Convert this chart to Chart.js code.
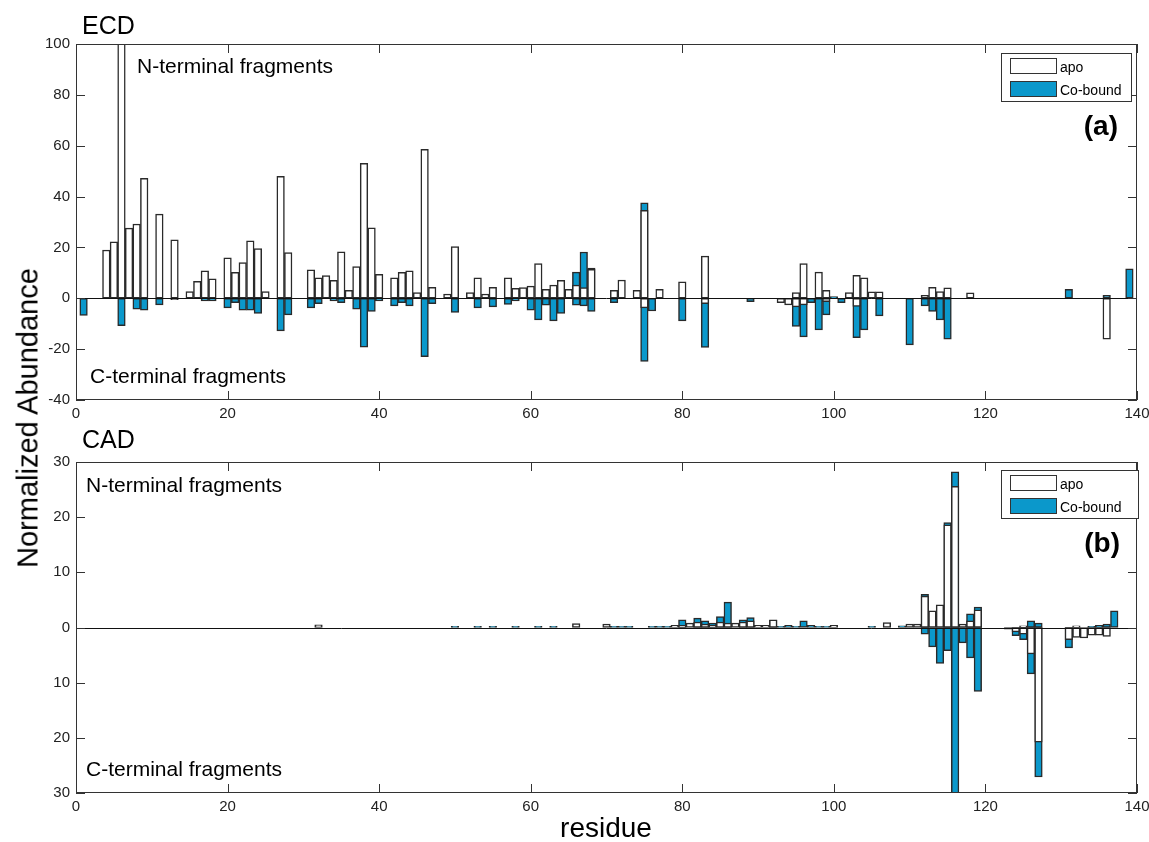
<!DOCTYPE html>
<html>
<head>
<meta charset="utf-8">
<title>ECD / CAD fragment abundance</title>
<script src="https://cdn.jsdelivr.net/npm/chart.js@4.4.1/dist/chart.umd.min.js"></script>
<style>
  body { margin: 0; background: #fff; font-family: "Liberation Sans", Arial, sans-serif; color: #000; }
  #page { position: relative; width: 1149px; height: 842px; overflow: hidden; }
  canvas { position: absolute; left: 0; }
  .txt { position: absolute; white-space: nowrap; line-height: 1; }
  .legend { position: absolute; border: 1px solid #333; background: #fff; box-sizing: border-box; }
  .swatch { position: absolute; left: 8px; width: 47px; height: 16px; border: 1px solid #333; box-sizing: border-box; }
  .key { position: absolute; left: 58px; font-size: 14px; line-height: 1; }
</style>
</head>
<body>
<div id="page">
  <canvas id="ecdChart" width="1149" height="430" style="top:0px"></canvas>
  <canvas id="cadChart" width="1149" height="422" style="top:420px"></canvas>

  <div class="txt" style="left:82px; top:13px; font-size:25px;">ECD</div>
  <div class="txt" style="left:82px; top:427px; font-size:25px;">CAD</div>

  <div class="txt" style="left:137px; top:55px; font-size:21px;">N-terminal fragments</div>
  <div class="txt" style="left:90px; top:365px; font-size:21px;">C-terminal fragments</div>
  <div class="txt" style="left:86px; top:474px; font-size:21px;">N-terminal fragments</div>
  <div class="txt" style="left:86px; top:758px; font-size:21px;">C-terminal fragments</div>

  <div class="txt" style="right:31px; top:112px; font-size:28px; font-weight:bold;">(a)</div>
  <div class="txt" style="right:29px; top:529px; font-size:28px; font-weight:bold;">(b)</div>

  <div class="txt" style="left:28px; top:418px; font-size:29px; transform:translate(-50%,-50%) rotate(-90deg);">Normalized Abundance</div>
  <div class="txt" style="left:606px; top:814px; font-size:28px; transform:translateX(-50%);">residue</div>

  <div class="legend" style="left:1001px; top:53px; width:131px; height:49px;">
    <div class="swatch" style="top:4px; background:#fff;"></div>
    <div class="key" style="top:6px;">apo</div>
    <div class="swatch" style="top:27px;" id="swA"></div>
    <div class="key" style="top:29px;">Co-bound</div>
  </div>
  <div class="legend" style="left:1001px; top:470px; width:138px; height:49px;">
    <div class="swatch" style="top:4px; background:#fff;"></div>
    <div class="key" style="top:6px;">apo</div>
    <div class="swatch" style="top:27px;" id="swB"></div>
    <div class="key" style="top:29px;">Co-bound</div>
  </div>
</div>

<script>
// ---- data: [residue, normalized abundance] ----
// N-terminal fragments go up, C-terminal fragments go down (negative)

// ECD
const ecdApoN = [
  [4, 19.0], [5, 22.2], [6, 105], [7, 27.6], [8, 29.2], [9, 47.2], [11, 33.1], [13, 23.0],
  [15, 2.6], [16, 6.7], [17, 10.8], [18, 7.7], [20, 15.9], [21, 10.2], [22, 14.0], [23, 22.6],
  [24, 19.5], [25, 2.6], [27, 48.0], [28, 18.0], [31, 11.2], [32, 8.0], [33, 8.9], [34, 7.1],
  [35, 18.3], [36, 3.1], [37, 12.5], [38, 53.1], [39, 27.7], [40, 9.4], [42, 8.0], [43, 10.2],
  [44, 10.8], [45, 2.2], [46, 58.6], [47, 4.3], [49, 1.7], [50, 20.3], [52, 2.2], [53, 8.0],
  [54, 1.7], [55, 4.3], [57, 8.0], [58, 3.9], [59, 4.2], [60, 4.8], [61, 13.6], [62, 3.5],
  [63, 5.2], [64, 7.1], [65, 3.5], [66, 5.2], [67, 4.2], [68, 11.4], [71, 3.1], [72, 7.2],
  [74, 3.1], [75, 34.6], [77, 3.5], [80, 6.5], [83, 16.6], [95, 2.2], [96, 13.6], [98, 10.3],
  [99, 3.1], [102, 2.2], [103, 9.0], [104, 8.0], [105, 2.5], [106, 2.5], [112, 1.2], [113, 4.3],
  [114, 2.6], [115, 4.1], [118, 2.1]
];
const ecdApoC = [
  [13, -0.5], [75, -3.8], [83, -2.1], [93, -1.7], [94, -2.6], [95, -3.4], [96, -2.6],
  [99, -1.3], [103, -3.2], [136, -16.1]
];
const ecdCoN = [
  [66, 10.3], [67, 18.2], [68, 11.9], [75, 37.5], [100, 0.7], [131, 3.5], [136, 1.2], [139, 11.6]
];
const ecdCoC = [
  [1, -6.7], [6, -10.8], [8, -4.3], [9, -4.7], [11, -2.6], [17, -1.0], [18, -1.0], [20, -3.8],
  [21, -1.7], [22, -4.7], [23, -4.7], [24, -6.0], [27, -12.8], [28, -6.5], [31, -3.8], [32, -2.1],
  [34, -1.0], [35, -1.7], [37, -4.3], [38, -19.2], [39, -5.2], [40, -1.0], [42, -3.0], [43, -1.7],
  [44, -3.0], [46, -23.0], [47, -2.1], [50, -5.6], [53, -3.8], [55, -3.4], [57, -2.4], [58, -1.0],
  [60, -4.7], [61, -8.5], [62, -2.7], [63, -8.9], [64, -6.0], [66, -2.7], [67, -3.0], [68, -5.2],
  [71, -1.7], [75, -24.8], [76, -5.0], [80, -8.9], [83, -19.3], [89, -1.3], [95, -11.1], [96, -15.2],
  [97, -1.7], [98, -12.4], [99, -6.5], [101, -1.7], [103, -15.5], [104, -12.4], [106, -6.9],
  [110, -18.3], [112, -3.0], [113, -5.2], [114, -8.5], [115, -16.1]
];

// CAD
const cadApoN = [
  [32, 0.5], [66, 0.7], [70, 0.6], [79, 0.4], [80, 0.4], [81, 0.8], [82, 1.0], [83, 0.6],
  [84, 0.4], [85, 1.0], [86, 0.8], [87, 0.8], [88, 1.0], [89, 1.2], [90, 0.4], [91, 0.4],
  [92, 1.4], [100, 0.4], [107, 0.9], [110, 0.6], [111, 0.6], [112, 5.7], [113, 3.0], [114, 4.1],
  [115, 18.6], [116, 25.6], [117, 0.6], [118, 1.2], [119, 3.2], [125, 0.3], [132, 0.3]
];
const cadApoC = [
  [124, -0.8], [125, -1.2], [126, -4.8], [127, -20.8], [131, -2.2], [132, -1.8], [133, -1.9],
  [134, -1.4], [135, -1.4], [136, -1.6]
];
const cadCoN = [
  [50, 0.2], [53, 0.2], [55, 0.2], [58, 0.2], [61, 0.2], [63, 0.2], [71, 0.2], [72, 0.2],
  [73, 0.2], [76, 0.2], [77, 0.2], [78, 0.2], [80, 1.4], [82, 1.7], [83, 1.2], [84, 0.8],
  [85, 2.0], [86, 4.6], [88, 1.4], [89, 1.8], [92, 1.3], [93, 0.2], [94, 0.4], [95, 0.2],
  [96, 1.2], [97, 0.4], [98, 0.2], [99, 0.2], [105, 0.2], [109, 0.3], [112, 6.0], [115, 19.0],
  [116, 28.2], [118, 2.5], [119, 3.7], [126, 1.2], [127, 0.8], [134, 0.2], [135, 0.4], [136, 0.6],
  [137, 3.0]
];
const cadCoC = [
  [112, -1.2], [113, -3.5], [114, -6.5], [115, -4.2], [116, -32], [117, -2.8], [118, -5.5],
  [119, -11.6], [123, -0.3], [124, -1.5], [125, -2.2], [126, -8.4], [127, -27.1], [131, -3.7]
];

const residueMax = 140;

// ---- styles ----
const APO_COLOR = "#ffffff";
const CO_COLOR = "#0b98cb";
const EDGE = "#2a2a2a";

document.getElementById("swA").style.background = CO_COLOR;
document.getElementById("swB").style.background = CO_COLOR;

Chart.defaults.font.family = '"Liberation Sans", Arial, sans-serif';
Chart.defaults.font.size = 15;
Chart.defaults.color = "#222";

// box, zero line and inward tick marks (matlab look)
const matlabFrame = {
  id: "matlabFrame",
  afterDatasetsDraw(chart) {
    const { ctx, chartArea: a, scales } = chart;
    const x = scales.x, y = scales.y;
    ctx.save();
    ctx.lineWidth = 1;
    ctx.strokeStyle = "#111";
    const y0 = Math.round(y.getPixelForValue(0)) + 0.5;
    ctx.beginPath();
    ctx.moveTo(a.left, y0);
    ctx.lineTo(a.right, y0);
    ctx.stroke();

    ctx.strokeStyle = "#333";
    ctx.beginPath();
    x.ticks.forEach((t) => {
      const px = Math.round(x.getPixelForValue(t.value)) + 0.5;
      ctx.moveTo(px, a.top); ctx.lineTo(px, a.top + 9);
      ctx.moveTo(px, a.bottom); ctx.lineTo(px, a.bottom - 9);
    });
    y.ticks.forEach((t) => {
      const py = Math.round(y.getPixelForValue(t.value)) + 0.5;
      ctx.moveTo(a.left, py); ctx.lineTo(a.left + 9, py);
      ctx.moveTo(a.right, py); ctx.lineTo(a.right - 9, py);
    });
    ctx.stroke();
    ctx.strokeRect(Math.round(a.left) + 0.5, Math.round(a.top) + 0.5,
      Math.round(a.width) - 1, Math.round(a.height) - 1);
    ctx.restore();
  }
};

function toPoints(pairs) {
  return pairs.map(([r, v]) => ({ x: r, y: v }));
}

function barSet(label, pairs, color) {
  return {
    label: label,
    data: toPoints(pairs),
    backgroundColor: color,
    borderColor: EDGE,
    borderWidth: 1.5,
    borderSkipped: false,
    grouped: false,
    barPercentage: 1,
    categoryPercentage: 1,
    clip: 0
  };
}

function makePanel(id, sets, yMin, yMax, yStep, padTop, xHeight, fmt) {
  return new Chart(document.getElementById(id), {
    type: "bar",
    // apo first so it is drawn on top of Co-bound
    data: { datasets: sets },
    plugins: [matlabFrame],
    options: {
      responsive: false,
      animation: false,
      devicePixelRatio: 1,
      layout: { padding: { top: padTop, right: 12, left: 0, bottom: 0 } },
      plugins: { legend: { display: false }, tooltip: { enabled: false } },
      scales: {
        x: {
          type: "linear",
          min: 0,
          max: residueMax,
          offset: false,
          grid: { display: false, drawTicks: false, offset: false },
          border: { display: false },
          ticks: { stepSize: 20, padding: 5, maxRotation: 0 },
          afterFit: (s) => {
            s.height = xHeight;
            // labels "0" and "140" may hang over the plot edges
            s.paddingLeft = 0;
            s.paddingRight = 0;
          }
        },
        y: {
          min: yMin,
          max: yMax,
          grid: { display: false, drawTicks: false },
          border: { display: false },
          ticks: { stepSize: yStep, padding: 6, callback: fmt },
          afterFit: (s) => { s.width = 76; }
        }
      }
    }
  });
}

window.onload = function () {
  makePanel("ecdChart", [
    barSet("apo", ecdApoN, APO_COLOR),
    barSet("apo C", ecdApoC, APO_COLOR),
    barSet("Co-bound", ecdCoN, CO_COLOR),
    barSet("Co-bound C", ecdCoC, CO_COLOR)
  ], -40, 100, 20, 44, 30, (v) => v);

  makePanel("cadChart", [
    barSet("apo", cadApoN, APO_COLOR),
    barSet("apo C", cadApoC, APO_COLOR),
    barSet("Co-bound", cadCoN, CO_COLOR),
    barSet("Co-bound C", cadCoC, CO_COLOR)
  ], -30, 30, 10, 42, 49, (v) => Math.abs(v));
};
</script>
</body>
</html>
